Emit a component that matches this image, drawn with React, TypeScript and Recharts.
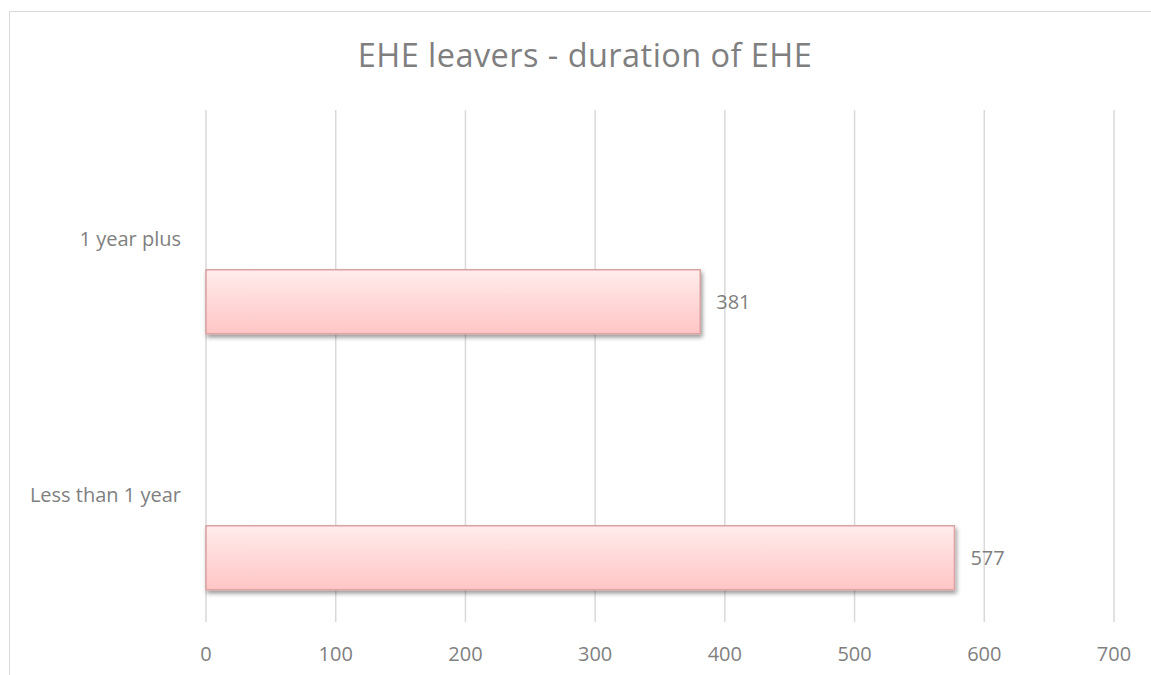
import React from 'react';
import { BarChart, Bar, XAxis, YAxis, CartesianGrid, LabelList } from 'recharts';

const categories = ['1 year plus', 'Less than 1 year'];
const leavers = [381, 577];
const xTicks = [0, 100, 200, 300, 400, 500, 600, 700];
const title = 'EHE leavers - duration of EHE';

const data = categories.map((name, i) => ({
  name,
  blankA: null as number | null,
  blankB: null as number | null,
  value: leavers[i],
}));

const W = 1151;
const H = 675;
const M_TOP = 110;
const M_RIGHT = 37;
const X_AXIS_H = 53;
const Y_AXIS_W = 206;
const PLOT_BOTTOM = H - X_AXIS_H;
const FONT = '"Open Sans", "Noto Sans", sans-serif';
const TEXT = '#7f7f7f';

const XTick = (props: any) => {
  const { x, payload } = props;
  return (
    <text x={x} y={PLOT_BOTTOM + 31} textAnchor="middle" dominantBaseline="central" fill={TEXT} fontSize={20} fontFamily={FONT}>
      {payload.value}
    </text>
  );
};

const YTick = (props: any) => {
  const { y, payload } = props;
  return (
    <text x={181} y={y} textAnchor="end" dominantBaseline="central" fill={TEXT} fontSize={20} fontFamily={FONT}>
      {payload.value}
    </text>
  );
};

export default function App() {
  return (
    <div style={{ position: 'absolute', left: 0, top: 0, width: W, height: H, background: '#fff', overflow: 'hidden' }}>
      <div style={{ position: 'absolute', left: 9, top: 11, width: W, height: H, borderLeft: '1.5px solid #d9d9d9', borderTop: '1.5px solid #d9d9d9' }} />
      <BarChart
        width={W}
        height={H}
        data={data}
        layout="vertical"
        margin={{ top: M_TOP, right: M_RIGHT, bottom: 0, left: 0 }}
        barCategoryGap={31.75}
        barGap={0}
      >
        <defs>
          <linearGradient id="barFill" x1="0" y1="0" x2="0" y2="1">
            <stop offset="0%" stopColor="#ffecec" />
            <stop offset="100%" stopColor="#ffc5c5" />
          </linearGradient>
          <filter id="barShadow" x="-10%" y="-30%" width="120%" height="170%">
            <feDropShadow dx="1.5" dy="3" stdDeviation="2" floodColor="#000" floodOpacity="0.4" />
          </filter>
        </defs>
        <CartesianGrid horizontal={false} stroke="#d9d9d9" strokeWidth={1.5} />
        <XAxis
          type="number"
          domain={[0, 700]}
          ticks={xTicks}
          axisLine={false}
          tickLine={false}
          height={X_AXIS_H}
          tick={<XTick />}
          interval={0}
        />
        <YAxis
          type="category"
          dataKey="name"
          width={Y_AXIS_W}
          axisLine={false}
          tickLine={false}
          tick={<YTick />}
          interval={0}
        />
        <Bar dataKey="blankA" isAnimationActive={false} fill="none" />
        <Bar dataKey="blankB" isAnimationActive={false} fill="none" />
        <Bar
          dataKey="value"
          isAnimationActive={false}
          fill="url(#barFill)"
          stroke="#dba3a3"
          strokeWidth={1.5}
          style={{ filter: 'url(#barShadow)' }}
        >
          <LabelList dataKey="value" position="right" offset={16} fill={TEXT} fontSize={20} fontFamily={FONT} />
        </Bar>
      </BarChart>
      <svg width={W} height={H} style={{ position: 'absolute', left: 0, top: 0, pointerEvents: 'none' }}>
        <text x={585} y={66.7} textAnchor="middle" fill={TEXT} fontSize={32.5} letterSpacing={0.45} fontFamily={FONT}>
          {title}
        </text>
      </svg>
    </div>
  );
}
